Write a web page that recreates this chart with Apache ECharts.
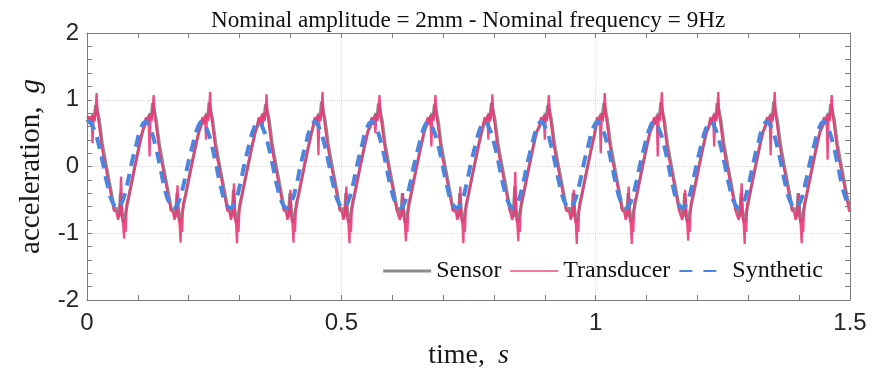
<!DOCTYPE html>
<html>
<head>
<meta charset="utf-8">
<script src="https://cdn.jsdelivr.net/npm/echarts@6/dist/echarts.min.js"></script>
<style>html,body{margin:0;padding:0;background:#fff}#c{width:888px;height:376px}</style>
</head>
<body>
<div id="c"></div>
<script>
const chartTitle = 'Nominal amplitude = 2mm - Nominal frequency = 9Hz';
const seriesNames = ['Sensor', 'Transducer', 'Synthetic'];
const xTickLabels = ['0', '0.5', '1', '1.5'];
const yTickLabels = ['-2', '-1', '0', '1', '2'];

const sensor = [
[0.000,0.66],[0.005,0.72],[0.008,0.66],[0.012,0.80],[0.014,0.70],[0.017,0.92],[0.020,0.85],[0.024,0.70],[0.030,0.34],[0.039,-0.04],[0.049,-0.44],[0.054,-0.66],
[0.059,-0.62],[0.063,-0.76],[0.066,-0.40],[0.069,-0.70],[0.072,-0.84],[0.075,-0.72],[0.078,-0.62],[0.084,-0.38],[0.093,-0.04],[0.103,0.32],[0.109,0.52],
[0.113,0.60],[0.117,0.72],[0.120,0.66],[0.124,0.80],[0.126,0.70],[0.129,0.95],[0.132,0.85],[0.136,0.70],[0.142,0.34],[0.151,-0.04],[0.161,-0.44],[0.166,-0.66],
[0.170,-0.62],[0.174,-0.76],[0.177,-0.40],[0.180,-0.70],[0.183,-0.84],[0.186,-0.72],[0.189,-0.62],[0.195,-0.38],[0.204,-0.04],[0.214,0.32],[0.220,0.52],
[0.224,0.60],[0.228,0.72],[0.231,0.66],[0.235,0.80],[0.237,0.70],[0.240,0.96],[0.243,0.85],[0.247,0.70],[0.253,0.34],[0.262,-0.04],[0.272,-0.44],[0.277,-0.66],
[0.281,-0.62],[0.285,-0.76],[0.288,-0.35],[0.291,-0.70],[0.294,-0.84],[0.297,-0.72],[0.300,-0.62],[0.306,-0.38],[0.315,-0.04],[0.325,0.32],[0.331,0.52],
[0.335,0.60],[0.339,0.72],[0.342,0.66],[0.346,0.80],[0.348,0.70],[0.351,0.93],[0.354,0.85],[0.358,0.70],[0.364,0.34],[0.373,-0.04],[0.383,-0.44],[0.388,-0.66],
[0.392,-0.62],[0.396,-0.76],[0.399,-0.40],[0.402,-0.70],[0.405,-0.84],[0.408,-0.72],[0.411,-0.62],[0.417,-0.38],[0.426,-0.04],[0.436,0.32],[0.442,0.52],
[0.445,0.60],[0.449,0.72],[0.452,0.66],[0.456,0.80],[0.458,0.70],[0.461,0.97],[0.464,0.85],[0.468,0.70],[0.474,0.34],[0.483,-0.04],[0.493,-0.44],[0.498,-0.66],
[0.502,-0.62],[0.506,-0.76],[0.509,-0.40],[0.512,-0.70],[0.515,-0.84],[0.518,-0.72],[0.521,-0.62],[0.527,-0.38],[0.536,-0.04],[0.546,0.32],[0.552,0.52],
[0.557,0.60],[0.561,0.72],[0.564,0.66],[0.568,0.80],[0.570,0.70],[0.573,0.94],[0.576,0.85],[0.580,0.70],[0.586,0.34],[0.595,-0.04],[0.605,-0.44],[0.610,-0.66],
[0.613,-0.62],[0.617,-0.76],[0.620,-0.40],[0.623,-0.70],[0.626,-0.84],[0.629,-0.72],[0.632,-0.62],[0.638,-0.38],[0.647,-0.04],[0.657,0.32],[0.663,0.52],
[0.667,0.60],[0.671,0.72],[0.674,0.66],[0.678,0.80],[0.680,0.70],[0.683,0.93],[0.686,0.85],[0.690,0.70],[0.696,0.34],[0.705,-0.04],[0.715,-0.44],[0.720,-0.66],
[0.726,-0.62],[0.730,-0.76],[0.733,-0.40],[0.736,-0.70],[0.739,-0.84],[0.742,-0.72],[0.745,-0.62],[0.751,-0.38],[0.760,-0.04],[0.770,0.32],[0.776,0.52],
[0.779,0.60],[0.783,0.72],[0.786,0.66],[0.790,0.80],[0.792,0.70],[0.795,0.95],[0.798,0.85],[0.802,0.70],[0.808,0.34],[0.817,-0.04],[0.827,-0.44],[0.832,-0.66],
[0.834,-0.62],[0.838,-0.76],[0.841,-0.30],[0.844,-0.70],[0.847,-0.84],[0.850,-0.72],[0.853,-0.62],[0.859,-0.38],[0.868,-0.04],[0.878,0.32],[0.884,0.52],
[0.890,0.60],[0.894,0.72],[0.897,0.66],[0.901,0.80],[0.903,0.70],[0.906,0.92],[0.909,0.85],[0.913,0.70],[0.919,0.34],[0.928,-0.04],[0.938,-0.44],[0.943,-0.66],
[0.949,-0.62],[0.953,-0.76],[0.956,-0.40],[0.959,-0.70],[0.962,-0.84],[0.965,-0.72],[0.968,-0.62],[0.974,-0.38],[0.983,-0.04],[0.993,0.32],[0.999,0.52],
[1.001,0.60],[1.004,0.72],[1.007,0.66],[1.011,0.80],[1.013,0.70],[1.016,0.95],[1.019,0.85],[1.023,0.70],[1.029,0.34],[1.038,-0.04],[1.048,-0.44],[1.053,-0.66],
[1.057,-0.62],[1.061,-0.76],[1.064,-0.40],[1.067,-0.70],[1.070,-0.84],[1.073,-0.72],[1.076,-0.62],[1.082,-0.38],[1.091,-0.04],[1.101,0.32],[1.107,0.52],
[1.112,0.60],[1.116,0.72],[1.119,0.66],[1.123,0.80],[1.125,0.70],[1.128,0.96],[1.131,0.85],[1.135,0.70],[1.141,0.34],[1.150,-0.04],[1.160,-0.44],[1.165,-0.66],
[1.168,-0.62],[1.172,-0.76],[1.175,-0.40],[1.178,-0.70],[1.181,-0.84],[1.184,-0.72],[1.187,-0.62],[1.193,-0.38],[1.202,-0.04],[1.212,0.32],[1.218,0.52],
[1.223,0.60],[1.227,0.72],[1.230,0.66],[1.234,0.80],[1.236,0.70],[1.239,0.95],[1.242,0.85],[1.246,0.70],[1.252,0.34],[1.261,-0.04],[1.271,-0.44],[1.276,-0.66],
[1.279,-0.62],[1.283,-0.76],[1.286,-0.40],[1.289,-0.70],[1.292,-0.84],[1.295,-0.72],[1.298,-0.62],[1.304,-0.38],[1.313,-0.04],[1.323,0.32],[1.329,0.52],
[1.334,0.60],[1.338,0.72],[1.341,0.66],[1.345,0.80],[1.347,0.70],[1.350,0.97],[1.353,0.85],[1.357,0.70],[1.363,0.34],[1.372,-0.04],[1.382,-0.44],[1.387,-0.66],
[1.391,-0.62],[1.395,-0.76],[1.398,-0.40],[1.401,-0.70],[1.404,-0.84],[1.407,-0.72],[1.410,-0.62],[1.416,-0.38],[1.425,-0.04],[1.435,0.32],[1.441,0.52],
[1.446,0.60],[1.450,0.72],[1.453,0.66],[1.457,0.80],[1.459,0.70],[1.462,0.93],[1.465,0.85],[1.469,0.70],[1.475,0.34],[1.484,-0.04],[1.494,-0.44],[1.499,-0.62],[1.500,-0.64]
];

const transducer = [
[0.000,0.72],[0.004,0.75],[0.007,0.62],[0.009,0.76],[0.011,0.35],[0.013,0.78],[0.015,0.68],[0.017,0.84],[0.019,1.10],[0.021,0.76],[0.023,0.66],[0.028,0.36],[0.033,0.12],[0.038,-0.06],[0.043,-0.26],[0.048,-0.46],[0.053,-0.66],
[0.058,-0.68],[0.061,-0.80],[0.064,-0.70],[0.067,-0.15],[0.069,-0.78],[0.071,-0.86],[0.073,-1.08],[0.074,-0.78],[0.076,-0.98],[0.078,-0.56],[0.083,-0.42],[0.091,-0.12],[0.099,0.18],[0.107,0.46],
[0.113,0.64],[0.116,0.74],[0.119,0.62],[0.121,0.77],[0.123,0.15],[0.125,0.80],[0.127,0.68],[0.129,0.86],[0.131,1.07],[0.133,0.76],[0.135,0.66],[0.140,0.36],[0.145,0.12],[0.150,-0.06],[0.155,-0.26],[0.160,-0.46],[0.165,-0.66],
[0.169,-0.68],[0.172,-0.80],[0.175,-0.70],[0.178,-0.28],[0.180,-0.78],[0.182,-0.86],[0.184,-1.14],[0.185,-0.78],[0.187,-0.98],[0.189,-0.56],[0.194,-0.42],[0.202,-0.12],[0.210,0.18],[0.218,0.46],
[0.224,0.64],[0.227,0.74],[0.230,0.63],[0.232,0.77],[0.234,0.40],[0.236,0.78],[0.238,0.68],[0.240,0.84],[0.242,1.12],[0.244,0.76],[0.246,0.66],[0.251,0.36],[0.256,0.12],[0.261,-0.06],[0.266,-0.26],[0.271,-0.46],[0.276,-0.66],
[0.280,-0.68],[0.283,-0.80],[0.286,-0.70],[0.289,-0.25],[0.291,-0.78],[0.293,-0.86],[0.295,-1.15],[0.296,-0.78],[0.298,-0.98],[0.300,-0.56],[0.305,-0.42],[0.313,-0.12],[0.321,0.18],[0.329,0.46],
[0.335,0.64],[0.338,0.74],[0.341,0.62],[0.343,0.77],[0.345,0.55],[0.347,0.80],[0.349,0.68],[0.351,0.84],[0.353,1.08],[0.355,0.76],[0.357,0.66],[0.362,0.36],[0.367,0.12],[0.372,-0.06],[0.377,-0.26],[0.382,-0.46],[0.387,-0.66],
[0.391,-0.68],[0.394,-0.80],[0.397,-0.70],[0.400,-0.35],[0.402,-0.78],[0.404,-0.86],[0.406,-1.14],[0.407,-0.78],[0.409,-0.98],[0.411,-0.56],[0.416,-0.42],[0.424,-0.12],[0.432,0.18],[0.440,0.46],
[0.445,0.64],[0.448,0.74],[0.451,0.62],[0.453,0.77],[0.455,0.17],[0.457,0.78],[0.459,0.68],[0.461,0.84],[0.463,1.12],[0.465,0.76],[0.467,0.66],[0.472,0.36],[0.477,0.12],[0.482,-0.06],[0.487,-0.26],[0.492,-0.46],[0.497,-0.66],
[0.501,-0.68],[0.504,-0.80],[0.507,-0.70],[0.510,-0.30],[0.512,-0.78],[0.514,-0.86],[0.516,-1.15],[0.517,-0.78],[0.519,-0.98],[0.521,-0.56],[0.526,-0.42],[0.534,-0.12],[0.542,0.18],[0.550,0.46],
[0.557,0.64],[0.560,0.74],[0.563,0.62],[0.565,0.77],[0.567,0.50],[0.569,0.80],[0.571,0.68],[0.573,0.84],[0.575,1.07],[0.577,0.76],[0.579,0.66],[0.584,0.36],[0.589,0.12],[0.594,-0.06],[0.599,-0.26],[0.604,-0.46],[0.609,-0.66],
[0.612,-0.68],[0.615,-0.80],[0.618,-0.70],[0.621,-0.40],[0.623,-0.78],[0.625,-0.86],[0.627,-1.12],[0.628,-0.78],[0.630,-0.98],[0.632,-0.56],[0.637,-0.42],[0.645,-0.12],[0.653,0.18],[0.661,0.46],
[0.667,0.64],[0.670,0.74],[0.673,0.62],[0.675,0.77],[0.677,0.30],[0.679,0.78],[0.681,0.68],[0.683,0.84],[0.685,1.07],[0.687,0.76],[0.689,0.66],[0.694,0.36],[0.699,0.12],[0.704,-0.06],[0.709,-0.26],[0.714,-0.46],[0.719,-0.66],
[0.725,-0.68],[0.728,-0.80],[0.731,-0.70],[0.734,-0.30],[0.736,-0.78],[0.738,-0.86],[0.740,-1.15],[0.741,-0.78],[0.743,-0.98],[0.745,-0.56],[0.750,-0.42],[0.758,-0.12],[0.766,0.18],[0.774,0.46],
[0.779,0.64],[0.782,0.74],[0.785,0.62],[0.787,0.77],[0.789,0.40],[0.791,0.80],[0.793,0.68],[0.795,0.84],[0.797,1.08],[0.799,0.76],[0.801,0.66],[0.806,0.36],[0.811,0.12],[0.816,-0.06],[0.821,-0.26],[0.826,-0.46],[0.831,-0.66],
[0.833,-0.68],[0.836,-0.80],[0.839,-0.70],[0.842,-0.08],[0.844,-0.78],[0.846,-0.86],[0.848,-1.12],[0.849,-0.78],[0.851,-0.98],[0.853,-0.56],[0.858,-0.42],[0.866,-0.12],[0.874,0.18],[0.882,0.46],
[0.890,0.64],[0.893,0.74],[0.896,0.62],[0.898,0.77],[0.900,0.40],[0.902,0.78],[0.904,0.68],[0.906,0.84],[0.908,1.07],[0.910,0.76],[0.912,0.66],[0.917,0.36],[0.922,0.12],[0.927,-0.06],[0.932,-0.26],[0.937,-0.46],[0.942,-0.66],
[0.948,-0.68],[0.951,-0.80],[0.954,-0.70],[0.957,-0.35],[0.959,-0.78],[0.961,-0.86],[0.963,-1.16],[0.964,-0.78],[0.966,-0.98],[0.968,-0.56],[0.973,-0.42],[0.981,-0.12],[0.989,0.18],[0.997,0.46],
[1.000,0.64],[1.003,0.74],[1.006,0.62],[1.008,0.77],[1.010,0.20],[1.012,0.80],[1.014,0.68],[1.016,0.84],[1.018,1.10],[1.020,0.76],[1.022,0.66],[1.027,0.36],[1.032,0.12],[1.037,-0.06],[1.042,-0.26],[1.047,-0.46],[1.052,-0.66],
[1.056,-0.68],[1.059,-0.80],[1.062,-0.70],[1.065,-0.30],[1.067,-0.78],[1.069,-0.86],[1.071,-1.16],[1.072,-0.78],[1.074,-0.98],[1.076,-0.56],[1.081,-0.42],[1.089,-0.12],[1.097,0.18],[1.105,0.46],
[1.112,0.64],[1.115,0.74],[1.118,0.62],[1.120,0.77],[1.122,0.15],[1.124,0.78],[1.126,0.68],[1.128,0.84],[1.130,1.11],[1.132,0.76],[1.134,0.66],[1.139,0.36],[1.144,0.12],[1.149,-0.06],[1.154,-0.26],[1.159,-0.46],[1.164,-0.66],
[1.167,-0.68],[1.170,-0.80],[1.173,-0.70],[1.176,-0.35],[1.178,-0.78],[1.180,-0.86],[1.182,-1.11],[1.183,-0.78],[1.185,-0.98],[1.187,-0.56],[1.192,-0.42],[1.200,-0.12],[1.208,0.18],[1.216,0.46],
[1.223,0.64],[1.226,0.74],[1.229,0.62],[1.231,0.77],[1.233,0.30],[1.235,0.80],[1.237,0.68],[1.239,0.84],[1.241,1.12],[1.243,0.76],[1.245,0.66],[1.250,0.36],[1.255,0.12],[1.260,-0.06],[1.265,-0.26],[1.270,-0.46],[1.275,-0.66],
[1.278,-0.68],[1.281,-0.80],[1.284,-0.70],[1.287,-0.25],[1.289,-0.78],[1.291,-0.86],[1.293,-1.16],[1.294,-0.78],[1.296,-0.98],[1.298,-0.56],[1.303,-0.42],[1.311,-0.12],[1.319,0.18],[1.327,0.46],
[1.334,0.64],[1.337,0.74],[1.340,0.62],[1.342,0.77],[1.344,0.17],[1.346,0.78],[1.348,0.68],[1.350,0.84],[1.352,1.12],[1.354,0.76],[1.356,0.66],[1.361,0.36],[1.366,0.12],[1.371,-0.06],[1.376,-0.26],[1.381,-0.46],[1.386,-0.66],
[1.390,-0.68],[1.393,-0.80],[1.396,-0.70],[1.399,-0.40],[1.401,-0.78],[1.403,-0.86],[1.405,-1.15],[1.406,-0.78],[1.408,-0.98],[1.410,-0.56],[1.415,-0.42],[1.423,-0.12],[1.431,0.18],[1.439,0.46],
[1.446,0.64],[1.449,0.74],[1.452,0.62],[1.454,0.77],[1.456,0.10],[1.458,0.80],[1.460,0.68],[1.462,0.84],[1.464,1.07],[1.466,0.76],[1.468,0.66],[1.473,0.36],[1.478,0.12],[1.483,-0.06],[1.488,-0.26],[1.493,-0.46],[1.498,-0.66],[1.500,-0.68]
];

const synthetic = [
[0.000,0.66],
[0.004,0.67],[0.013,0.57],[0.023,0.33],[0.032,0.02],[0.041,-0.30],[0.050,-0.53],[0.060,-0.62],[0.069,-0.53],[0.078,-0.30],[0.087,0.02],[0.097,0.33],[0.106,0.57],
[0.115,0.67],[0.124,0.57],[0.134,0.33],[0.143,0.02],[0.152,-0.30],[0.161,-0.53],[0.171,-0.62],[0.180,-0.53],[0.189,-0.30],[0.198,0.02],[0.208,0.33],[0.217,0.57],
[0.226,0.67],[0.235,0.57],[0.245,0.33],[0.254,0.02],[0.263,-0.30],[0.272,-0.53],[0.282,-0.62],[0.291,-0.53],[0.300,-0.30],[0.309,0.02],[0.319,0.33],[0.328,0.57],
[0.337,0.67],[0.346,0.57],[0.356,0.33],[0.365,0.02],[0.374,-0.30],[0.383,-0.53],[0.393,-0.62],[0.402,-0.53],[0.411,-0.30],[0.420,0.02],[0.430,0.33],[0.439,0.57],
[0.448,0.67],[0.457,0.57],[0.467,0.33],[0.476,0.02],[0.485,-0.30],[0.494,-0.53],[0.504,-0.62],[0.513,-0.53],[0.522,-0.30],[0.531,0.02],[0.541,0.33],[0.550,0.57],
[0.560,0.67],[0.569,0.57],[0.579,0.33],[0.588,0.02],[0.597,-0.30],[0.606,-0.53],[0.616,-0.62],[0.625,-0.53],[0.634,-0.30],[0.643,0.02],[0.653,0.33],[0.662,0.57],
[0.671,0.67],[0.680,0.57],[0.690,0.33],[0.699,0.02],[0.708,-0.30],[0.717,-0.53],[0.727,-0.62],[0.736,-0.53],[0.745,-0.30],[0.754,0.02],[0.764,0.33],[0.773,0.57],
[0.782,0.67],[0.791,0.57],[0.801,0.33],[0.810,0.02],[0.819,-0.30],[0.828,-0.53],[0.838,-0.62],[0.847,-0.53],[0.856,-0.30],[0.865,0.02],[0.875,0.33],[0.884,0.57],
[0.893,0.67],[0.902,0.57],[0.912,0.33],[0.921,0.02],[0.930,-0.30],[0.939,-0.53],[0.949,-0.62],[0.958,-0.53],[0.967,-0.30],[0.976,0.02],[0.986,0.33],[0.995,0.57],
[1.004,0.67],[1.013,0.57],[1.023,0.33],[1.032,0.02],[1.041,-0.30],[1.050,-0.53],[1.060,-0.62],[1.069,-0.53],[1.078,-0.30],[1.087,0.02],[1.097,0.33],[1.106,0.57],
[1.115,0.67],[1.124,0.57],[1.134,0.33],[1.143,0.02],[1.152,-0.30],[1.161,-0.53],[1.171,-0.62],[1.180,-0.53],[1.189,-0.30],[1.198,0.02],[1.208,0.33],[1.217,0.57],
[1.226,0.67],[1.235,0.57],[1.245,0.33],[1.254,0.02],[1.263,-0.30],[1.272,-0.53],[1.282,-0.62],[1.291,-0.53],[1.300,-0.30],[1.309,0.02],[1.319,0.33],[1.328,0.57],
[1.337,0.67],[1.346,0.57],[1.356,0.33],[1.365,0.02],[1.374,-0.30],[1.383,-0.53],[1.393,-0.62],[1.402,-0.53],[1.411,-0.30],[1.420,0.02],[1.430,0.33],[1.439,0.57],
[1.448,0.67],[1.457,0.57],[1.467,0.33],[1.476,0.02],[1.485,-0.30],[1.494,-0.53],[1.500,-0.60]
];

const SERIF = "'Liberation Serif', 'Times New Roman', serif";
const SANS = "'Liberation Sans', Arial, sans-serif";
const AXIS_COLOR = '#7a7a7a';

function xLabel(v) {
  for (let i = 0; i < xTickLabels.length; i++) {
    if (Math.abs(parseFloat(xTickLabels[i]) - v) < 1e-6) return xTickLabels[i];
  }
  return '';
}
function yLabel(v) {
  for (let i = 0; i < yTickLabels.length; i++) {
    if (Math.abs(parseFloat(yTickLabels[i]) - v) < 1e-6) return yTickLabels[i];
  }
  return '';
}

function makeX(pos, main) {
  return {
    type: 'value', position: pos, min: 0, max: 1.5, interval: 0.5,
    axisLine: { show: true, onZero: false, lineStyle: { color: AXIS_COLOR, width: 1 } },
    axisTick: { show: true, inside: true, length: 5, lineStyle: { color: AXIS_COLOR } },
    minorTick: { show: true, splitNumber: 5, length: 5, lineStyle: { color: AXIS_COLOR } },
    minorSplitLine: { show: false },
    axisLabel: main ? { show: true, formatter: xLabel, color: '#262626', fontFamily: SANS, fontSize: 24, margin: 11 } : { show: false },
    splitLine: main ? { show: true, lineStyle: { color: '#dadada', type: 'dotted', width: 1 } } : { show: false },
    name: main ? '{n|time,}{i|s}' : '',
    nameLocation: 'middle', nameGap: 42,
    nameTextStyle: { rich: {
      n: { fontFamily: SERIF, fontSize: 28, color: '#1a1a1a' },
      i: { fontFamily: SERIF, fontSize: 28, fontStyle: 'italic', color: '#1a1a1a', padding: [0, 0, 0, 13] }
    } }
  };
}
function makeY(pos, main) {
  return {
    type: 'value', position: pos, min: -2, max: 2, interval: 1,
    axisLine: { show: true, onZero: false, lineStyle: { color: AXIS_COLOR, width: 1 } },
    axisTick: { show: true, inside: true, length: 5, lineStyle: { color: AXIS_COLOR } },
    minorTick: { show: true, splitNumber: 5, length: 5, lineStyle: { color: AXIS_COLOR } },
    minorSplitLine: { show: false },
    axisLabel: main ? { show: true, formatter: yLabel, color: '#262626', fontFamily: SANS, fontSize: 24, margin: 8 } : { show: false },
    splitLine: main ? { show: true, lineStyle: { color: '#dadada', type: 'dotted', width: 1 } } : { show: false },
    name: main ? '{n|acceleration,}{i|g}' : '',
    nameLocation: 'middle', nameGap: 41,
    nameTextStyle: { rich: {
      n: { fontFamily: SERIF, fontSize: 29, color: '#1a1a1a' },
      i: { fontFamily: SERIF, fontSize: 29, fontStyle: 'italic', color: '#1a1a1a', padding: [0, 0, 0, 13] }
    } }
  };
}

const chart = echarts.init(document.getElementById('c'), null, { renderer: 'canvas' });
chart.setOption({
  animation: false,
  backgroundColor: '#ffffff',
  textStyle: { fontFamily: SERIF },
  title: {
    text: chartTitle, left: 206, top: 4,
    textStyle: { fontFamily: SERIF, fontSize: 23.2, fontWeight: 'normal', color: '#111' }
  },
  grid: { left: 87, right: 38, top: 33, bottom: 76 },
  xAxis: [makeX('bottom', true), makeX('top', false)],
  yAxis: [makeY('left', true), makeY('right', false)],
  legend: {
    data: [
      { name: seriesNames[0], lineStyle: { width: 3 } },
      { name: seriesNames[1], lineStyle: { width: 1.5 } },
      { name: seriesNames[2], lineStyle: { type: [13, 11] } }
    ],
    right: 60, top: 254,
    itemWidth: 48, itemHeight: 14, itemGap: 8,
    itemStyle: { opacity: 0 },
    textStyle: { fontFamily: SERIF, fontSize: 24, color: '#111' },
    backgroundColor: 'transparent'
  },
  series: [
    { name: seriesNames[0], type: 'line', data: sensor, xAxisIndex: 0, yAxisIndex: 0,
      symbol: 'none', showSymbol: false, smooth: false, z: 2,
      lineStyle: { color: '#8c8c8c', width: 3.2 }, itemStyle: { color: '#8c8c8c' } },
    { name: seriesNames[1], type: 'line', data: transducer, xAxisIndex: 0, yAxisIndex: 0,
      symbol: 'none', showSymbol: false, smooth: false, z: 3,
      lineStyle: { color: 'rgba(234,58,120,0.9)', width: 2.3 }, itemStyle: { color: '#ea3a78' } },
    { name: seriesNames[2], type: 'line', data: synthetic, xAxisIndex: 0, yAxisIndex: 0,
      symbol: 'none', showSymbol: false, smooth: 0.5, z: 4,
      lineStyle: { color: '#4a86e0', width: 4, type: [12, 8] }, itemStyle: { color: '#4a86e0' } }
  ]
});
</script>
</body>
</html>
